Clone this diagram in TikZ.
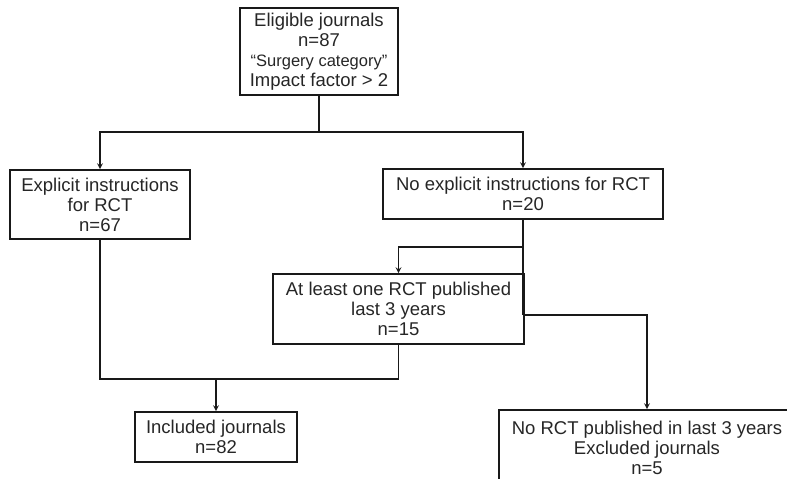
\documentclass[tikz,border=0pt]{standalone}
\usepackage{fontspec}
\setmainfont{Liberation Sans}
\usetikzlibrary{arrows,positioning,calc}

\begin{document}
\begin{tikzpicture}[
    x=1pt, y=-1pt,
    box/.style={draw=black!90, rectangle, align=center, line width=1.6pt, inner sep=2pt, text=black!85, font=\fontsize{18.5}{20}\selectfont},
    arrow/.style={->, >=stealth, draw=black!90, line width=1.6pt},
    link/.style={draw=black!90, line width=1.6pt}
]
    \clip (0,0) rectangle (787,479);

    % Nodes
    \node[box, minimum width=158pt, minimum height=87pt] (elig) at (319,51.5) {Eligible journals \\ n=87 \\ {\fontsize{16.5}{20}\selectfont “Surgery category”} \\ Impact factor > 2};
    \node[box, minimum width=180pt, minimum height=69pt] (explicit) at (100,204.5) {Explicit instructions \\ for RCT \\ n=67};
    \node[box, minimum width=280pt, minimum height=50pt] (noexpl) at (523,194) {No explicit instructions for RCT \\ n=20};
    \node[box, minimum width=251pt, minimum height=70pt] (atleast) at (398.5,309) {At least one RCT published \\ last 3 years \\ n=15};
    \node[box, minimum width=162pt, minimum height=50pt] (included) at (216,437) {Included journals \\ n=82};
    \node[box, minimum width=296pt, minimum height=76pt] (excluded) at (647,448) {No RCT published in last 3 years \\ Excluded journals \\ n=5};

    % Junctions
    \coordinate (split1) at (319,132);
    \coordinate (split2) at (523,247);
    \coordinate (split3) at (523,315);
    \coordinate (merge) at (216,379);

    % Arrows
    \draw[link] (elig) -- (split1);
    \draw[arrow] (split1) -| (explicit);
    \draw[arrow] (split1) -| (noexpl);

    \draw[link] (noexpl) -- (split3);
    \draw[arrow] (split2) -| (atleast);
    \draw[arrow] (split3) -| (excluded);

    \draw[link] (explicit) |- (merge) -| (atleast);
    \draw[arrow] (merge) -- (included);

\end{tikzpicture}
\end{document}
